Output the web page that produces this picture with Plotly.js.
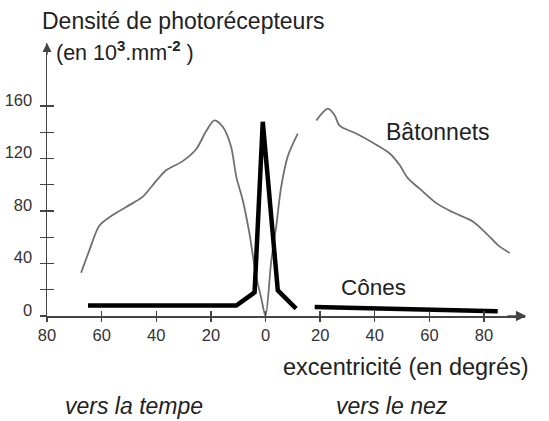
<!DOCTYPE html>
<html>
<head>
<meta charset="utf-8">
<script src="https://cdn.plot.ly/plotly-3.0.1.min.js"></script>
<style>html,body{margin:0;padding:0;background:#fff;}#chart{width:549px;height:421px;}</style>
</head>
<body>
<div id="chart"></div>
<script>
// Excentricité: negative = vers la tempe, positive = vers le nez (degrés)
const rodX = [-67.5,-64.5,-60.8,-55.9,-48.6,-44.9,-40,-36.4,-30.3,-25.4,-21.7,-18.7,-15.6,-12.6,-10.7,-8.3,-5.9,-3.4,-1.6,0,2.1,3.9,5.7,8.2,11.8,null,18.6,22.8,25.3,27.1,33.2,39.3,45.4,49.1,52.1,56.4,62.5,68.6,75.9,80.8,85.1,89.4];
const rodY = [33,50,69,77,86,91,103,111,118,127,141,149,144,129,106,88,63,30,14,0,42,68,98,122,139,null,149,158,153,145,139,132,124,115,105,97,86,79,72,63,54,48];
const coneX = [-65,-10.7,-4,-1,4.5,11.2,null,18,85];
const coneY = [8,8,18,148,19.5,5.6,null,6.8,3.7];
const xTickVals = [-80,-60,-40,-20,0,20,40,60,80];
const xTickText = ["80","60","40","20","0","20","40","60","80"];
const yTickVals = [0,20,40,60,80,100,120,140,160];
const yTickText = ["0","","40","","80","","120","","160"];

const FONT = "Liberation Sans, Arial, sans-serif";
const TXT = "#222";
const AX = "#444";

const traces = [
  {x: rodX, y: rodY, type: "scatter", mode: "lines", connectgaps: false,
   line: {color: "#707070", width: 1.8, shape: "spline", smoothing: 0.8},
   hoverinfo: "skip", cliponaxis: false},
  {x: coneX, y: coneY, type: "scatter", mode: "lines", connectgaps: false,
   line: {color: "#000", width: 4.5}, hoverinfo: "skip", cliponaxis: false},
  {x: [], y: [], xaxis: "x2", yaxis: "y2", type: "scatter", mode: "lines", hoverinfo: "skip"}
];

const xr = [-80, 95], yr = [0, 208];
const layout = {
  width: 549, height: 421,
  margin: {l: 47, r: 24, t: 43, b: 105},
  paper_bgcolor: "#fff", plot_bgcolor: "#fff",
  showlegend: false,
  font: {family: FONT, color: TXT},
  xaxis: {range: xr, showgrid: false, zeroline: false, showline: true, linecolor: AX, linewidth: 1.5,
          tickmode: "array", tickvals: xTickVals, ticktext: xTickText,
          ticks: "outside", ticklen: 4, tickwidth: 1.3, tickcolor: AX,
          tickfont: {size: 16.5, color: "#333", family: FONT}, ticklabelstandoff: 0, fixedrange: true},
  yaxis: {range: yr, showgrid: false, zeroline: false, showline: true, linecolor: AX, linewidth: 1.5,
          tickmode: "array", tickvals: yTickVals, ticktext: yTickText,
          ticks: "outside", ticklen: 6, tickwidth: 1.3, tickcolor: AX,
          tickfont: {size: 16.5, color: "#333", family: FONT}, ticklabelstandoff: 4, ticklabelshift: -6, fixedrange: true},
  xaxis2: {range: xr, overlaying: "x", anchor: "y", side: "bottom", showgrid: false, zeroline: false,
           showline: false, tickmode: "array", tickvals: xTickVals, showticklabels: false,
           ticks: "inside", ticklen: 5, tickwidth: 1.3, tickcolor: AX},
  yaxis2: {range: yr, overlaying: "y", anchor: "x", side: "left", showgrid: false, zeroline: false,
           showline: false, tickmode: "array", tickvals: yTickVals, showticklabels: false,
           ticks: "inside", ticklen: 7, tickwidth: 1.3, tickcolor: AX},
  annotations: [
    {xref: "x", yref: "y", x: 95.5, y: 0, axref: "x", ayref: "y", ax: 88, ay: 0, text: "",
     showarrow: true, arrowhead: 2, arrowsize: 1.4, arrowwidth: 1.5, arrowcolor: AX},
    {xref: "x", yref: "y", x: -80, y: 208, axref: "x", ayref: "y", ax: -80, ay: 198, text: "",
     showarrow: true, arrowhead: 2, arrowsize: 1.2, arrowwidth: 1.5, arrowcolor: AX},
    {xref: "paper", yref: "paper", x: (40-47)/478, y: (316-21)/273, xanchor: "left", yanchor: "middle",
     text: "Densité de photorécepteurs", showarrow: false, font: {size: 23, color: TXT}},
    {xref: "paper", yref: "paper", x: (54-47)/478, y: (316-51)/273, xanchor: "left", yanchor: "middle",
     text: "(en 10<sup><b>3</b></sup>.mm<sup><b>-2</b></sup> )", showarrow: false, font: {size: 21.5, color: TXT}},
    {xref: "x", yref: "y", x: 63, y: 140, text: "Bâtonnets", showarrow: false, font: {size: 23, color: TXT}},
    {xref: "x", yref: "y", x: 39.5, y: 22, text: "Cônes", showarrow: false, font: {size: 22.5, color: TXT}},
    {xref: "paper", yref: "paper", x: (406-47)/478, y: (316-367)/273, xanchor: "center", yanchor: "middle",
     text: "excentricité (en degrés)", showarrow: false, font: {size: 23.5, color: TXT}},
    {xref: "paper", yref: "paper", x: (134-47)/478, y: (316-420.5)/273, xanchor: "center", yanchor: "bottom",
     text: "<i>vers la tempe</i>", showarrow: false, font: {size: 23, color: TXT}},
    {xref: "paper", yref: "paper", x: (392-47)/478, y: (316-420.5)/273, xanchor: "center", yanchor: "bottom",
     text: "<i>vers le nez</i>", showarrow: false, font: {size: 23, color: TXT}}
  ]
};

Plotly.newPlot("chart", traces, layout, {staticPlot: true, displayModeBar: false});
</script>
</body>
</html>
